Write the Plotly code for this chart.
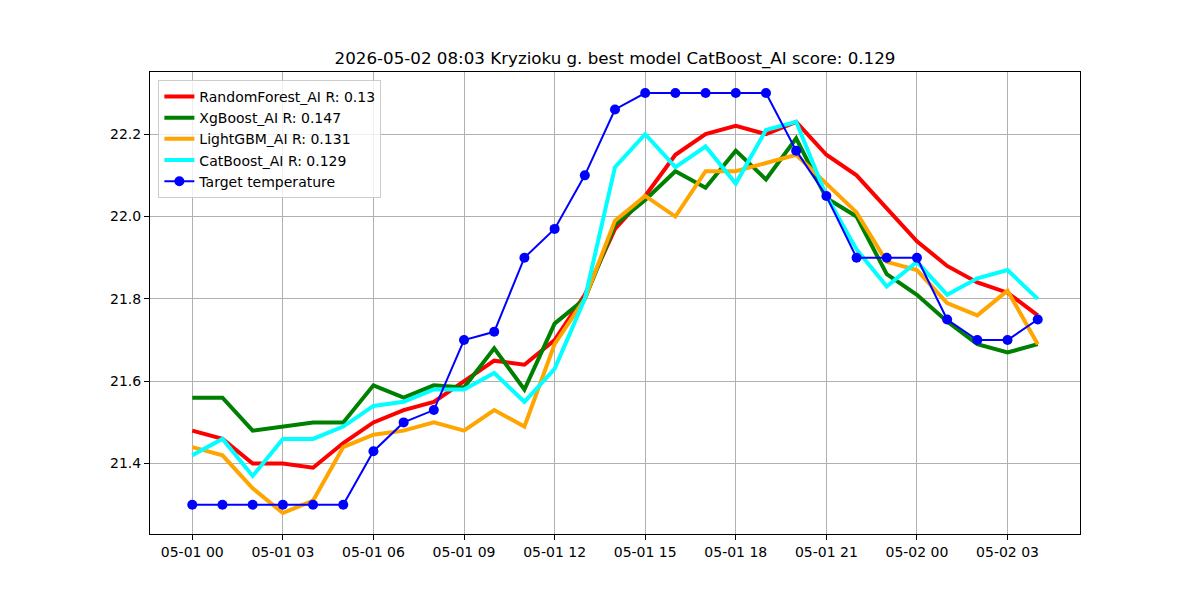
import pandas as pd
import plotly.graph_objects as go

times = pd.date_range("2026-05-01 00:00", periods=29, freq="h")

random_forest = [21.48, 21.46, 21.40, 21.40, 21.39, 21.45, 21.50, 21.53, 21.55, 21.60,
                 21.65, 21.64, 21.70, 21.81, 21.97, 22.05, 22.15, 22.20, 22.22, 22.20,
                 22.23, 22.15, 22.10, 22.02, 21.94, 21.88, 21.84, 21.815, 21.76]
xgboost = [21.56, 21.56, 21.48, 21.49, 21.50, 21.50, 21.59, 21.56, 21.59, 21.585,
           21.68, 21.58, 21.74, 21.80, 21.98, 22.04, 22.11, 22.07, 22.16, 22.09,
           22.19, 22.045, 22.00, 21.86, 21.81, 21.745, 21.69, 21.67, 21.69]
lightgbm = [21.44, 21.42, 21.34, 21.28, 21.31, 21.44, 21.47, 21.48, 21.50, 21.48,
            21.53, 21.49, 21.69, 21.80, 21.99, 22.05, 22.00, 22.11, 22.11, 22.13,
            22.15, 22.08, 22.01, 21.89, 21.87, 21.79, 21.76, 21.82, 21.69]
catboost = [21.42, 21.46, 21.37, 21.46, 21.46, 21.49, 21.54, 21.55, 21.58, 21.58,
            21.62, 21.55, 21.63, 21.80, 22.12, 22.20, 22.12, 22.17, 22.08, 22.21,
            22.23, 22.05, 21.92, 21.83, 21.89, 21.81, 21.85, 21.87, 21.80]
target = [21.30, 21.30, 21.30, 21.30, 21.30, 21.30, 21.43, 21.50, 21.53, 21.70,
          21.72, 21.90, 21.97, 22.10, 22.26, 22.30, 22.30, 22.30, 22.30, 22.30,
          22.16, 22.05, 21.90, 21.90, 21.90, 21.75, 21.70, 21.70, 21.75]

series = [
    ("RandomForest_AI R: 0.13", random_forest, "#ff0000"),
    ("XgBoost_AI R: 0.147", xgboost, "#008000"),
    ("LightGBM_AI R: 0.131", lightgbm, "#ffa500"),
    ("CatBoost_AI R: 0.129", catboost, "#00ffff"),
]
title = "2026-05-02 08:03 Kryzioku g. best model CatBoost_AI score: 0.129"

fig = go.Figure()
for name, vals, col in series:
    fig.add_trace(go.Scatter(x=times, y=vals, mode="lines", name=name,
                             line=dict(color=col, width=4)))
fig.add_trace(go.Scatter(x=times, y=target, mode="lines+markers", name="Target temperature",
                         line=dict(color="#0000ff", width=2),
                         marker=dict(color="#0000ff", size=10)))

span = times[-1] - times[0]
pad = span * 0.05
ymin = min(min(s) for s in [random_forest, xgboost, lightgbm, catboost, target])
ymax = max(max(s) for s in [random_forest, xgboost, lightgbm, catboost, target])
ypad = (ymax - ymin) * 0.05

fig.update_layout(
    width=1200, height=600,
    margin=dict(l=150, r=120, t=72, b=66),
    paper_bgcolor="white", plot_bgcolor="white",
    font=dict(family="DejaVu Sans", size=14, color="black"),
    title=dict(text=title, x=0.5125, xanchor="center", y=1 - 58 / 600, yanchor="middle",
               font=dict(size=16.7, color="black")),
    showlegend=True,
    legend=dict(x=0.009, y=0.983, xanchor="left", yanchor="top",
                bgcolor="rgba(255,255,255,0.8)", bordercolor="#cccccc", borderwidth=1,
                font=dict(size=14), tracegroupgap=0, itemwidth=30),
    xaxis=dict(range=[times[0] - pad, times[-1] + pad], tickformat="%m-%d %H",
               dtick=3 * 3600 * 1000, tick0=times[0],
               showgrid=True, gridcolor="#b0b0b0", gridwidth=1,
               showline=True, linecolor="black", linewidth=1, mirror=True,
               ticks="outside", ticklen=5, tickcolor="black", zeroline=False,
               tickfont=dict(size=14)),
    yaxis=dict(range=[ymin - ypad, ymax + ypad], tickformat=".1f", dtick=0.2, tick0=21.4,
               showgrid=True, gridcolor="#b0b0b0", gridwidth=1,
               showline=True, linecolor="black", linewidth=1, mirror=True,
               ticks="outside", ticklen=5, tickcolor="black", zeroline=False,
               tickfont=dict(size=14)),
)

fig.write_html("out.html")
